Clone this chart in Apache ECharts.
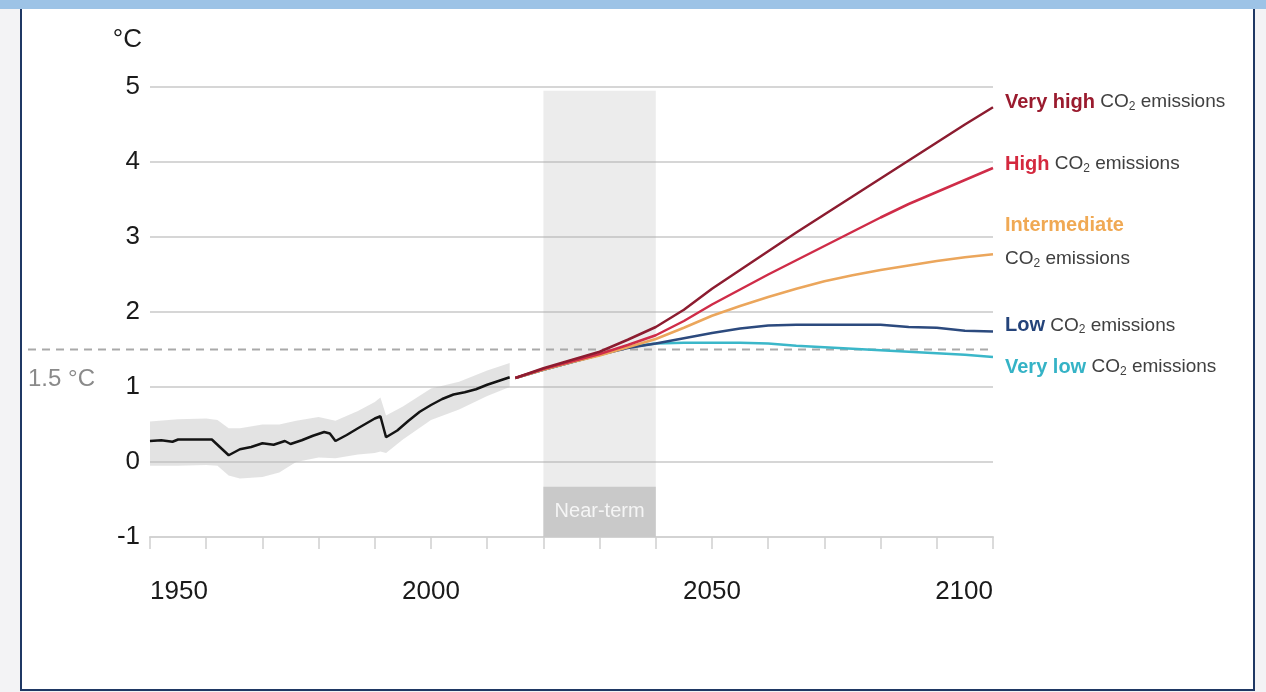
<!DOCTYPE html>
<html>
<head>
<meta charset="utf-8">
<script src="https://cdn.jsdelivr.net/npm/echarts@6/dist/echarts.min.js"></script>
<style>
  html, body { margin: 0; padding: 0; background: #f3f3f5; }
  #topband { position: absolute; left: 0; top: 0; width: 1266px; height: 9px; background: #9dc3e6; }
  #frame {
    position: absolute; left: 20px; top: 9px; width: 1231px; height: 680px;
    background: #fff; border: 2px solid #1f3864; border-top: none;
  }
  #chart { position: absolute; left: 0; top: 0; width: 1266px; height: 692px; }
</style>
</head>
<body>
<div id="topband"></div>
<div id="frame"></div>
<div id="chart"></div>
<script>
// observed warming, 1950-2014
var histYears = [1950, 1952, 1954, 1955, 1958, 1961, 1964, 1966, 1968, 1970, 1972, 1974, 1975, 1977,
  1979, 1981, 1982, 1983, 1985, 1987, 1990, 1991, 1992, 1994, 1996, 1998, 2000, 2002, 2004, 2006,
  2008, 2010, 2012, 2014]
var histTemp = [0.28, 0.29, 0.27, 0.30, 0.30, 0.30, 0.09, 0.17, 0.20, 0.25, 0.23, 0.28, 0.24, 0.29,
  0.35, 0.40, 0.38, 0.28, 0.36, 0.45, 0.58, 0.61, 0.33, 0.42, 0.55, 0.67, 0.76, 0.84, 0.90, 0.93,
  0.97, 1.03, 1.08, 1.13]

// uncertainty band around observations
var bandYears = [1950, 1955, 1960, 1962, 1964, 1966, 1970, 1973, 1976, 1980, 1983, 1987, 1990, 1991,
  1992, 1995, 2000, 2005, 2010, 2014]
var bandHigh = [0.54, 0.57, 0.58, 0.56, 0.45, 0.45, 0.50, 0.50, 0.55, 0.60, 0.55, 0.68, 0.80, 0.86,
  0.62, 0.74, 0.98, 1.07, 1.22, 1.32]
var bandLow = [-0.05, -0.05, -0.04, -0.05, -0.18, -0.22, -0.20, -0.14, 0.00, 0.06, 0.05, 0.10, 0.12, 0.14,
  0.12, 0.30, 0.56, 0.70, 0.88, 1.00]

// scenario projections
var projYears = [2015, 2020, 2025, 2030, 2035, 2040, 2045, 2050, 2055, 2060, 2065, 2070, 2075, 2080, 2085, 2090, 2095, 2100]
var veryHigh = [1.12, 1.25, 1.36, 1.47, 1.63, 1.80, 2.03, 2.31, 2.56, 2.81, 3.06, 3.30, 3.54, 3.78, 4.02, 4.26, 4.50, 4.73]
var high = [1.12, 1.24, 1.34, 1.44, 1.56, 1.69, 1.88, 2.10, 2.30, 2.50, 2.69, 2.88, 3.07, 3.26, 3.44, 3.60, 3.76, 3.92]
var intermediate = [1.12, 1.23, 1.33, 1.42, 1.53, 1.64, 1.79, 1.95, 2.08, 2.20, 2.31, 2.41, 2.49, 2.56, 2.62, 2.68, 2.73, 2.77]
var low = [1.12, 1.23, 1.33, 1.43, 1.52, 1.58, 1.65, 1.72, 1.78, 1.82, 1.83, 1.83, 1.83, 1.83, 1.80, 1.79, 1.75, 1.74]
var veryLow = [1.12, 1.23, 1.33, 1.43, 1.53, 1.58, 1.59, 1.59, 1.59, 1.58, 1.55, 1.53, 1.51, 1.49, 1.47, 1.45, 1.43, 1.40]

var xTickLabels = [1950, 2000, 2050, 2100]
var threshold = 1.5
var nearTerm = [2020, 2040]

var FONT = "'Liberation Sans', Arial, sans-serif"

function pairs(xs, ys) {
  return xs.map(function (x, i) { return [x, ys[i]] })
}

function richFor(color) {
  return {
    k: { color: color, fontWeight: 'bold', fontSize: 20, fontFamily: FONT },
    g: { color: '#404040', fontSize: 19, fontFamily: FONT },
    s: { color: '#404040', fontSize: 12, fontFamily: FONT, padding: [9, 0, 0, 0] }
  }
}

function scenario(name, ys, color, labelColor, keyword, offsetY, twoLines) {
  var sep = twoLines ? '\n' : ' '
  return {
    name: name,
    type: 'line',
    data: pairs(projYears, ys),
    symbol: 'none',
    lineStyle: { color: color, width: 2.5 },
    z: 4,
    endLabel: {
      show: true,
      distance: 12,
      offset: [0, offsetY],
      fontFamily: FONT,
      fontSize: 19,
      lineHeight: 33,
      formatter: '{k|' + keyword + '}' + sep + '{g|CO}{s|2}{g| emissions}',
      rich: richFor(labelColor)
    }
  }
}

// shaded range drawn as one polygon through the axis scales
function renderBand(params, api) {
  if (params.dataIndexInside !== 0) return
  var n = params.dataInsideLength
  var top = [], bottom = []
  for (var i = 0; i < n; i++) {
    var x = api.value(0, i)
    top.push(api.coord([x, api.value(2, i)]))
    bottom.unshift(api.coord([x, api.value(1, i)]))
  }
  return {
    type: 'polygon',
    shape: { points: top.concat(bottom) },
    style: { fill: 'rgba(185,185,185,0.4)' }
  }
}

var chart = echarts.init(document.getElementById('chart'))

chart.setOption({
  animation: false,
  grid: [
    { left: 150, right: 273, top: 87, bottom: 155, outerBoundsMode: 'none' },
    { left: 28, right: 273, top: 87, bottom: 155, outerBoundsMode: 'none' }
  ],
  xAxis: [{
    type: 'value',
    min: 1950,
    max: 2100,
    interval: 10,
    splitLine: { show: false },
    axisLine: { onZero: false, lineStyle: { color: '#d3d3d3', width: 2 } },
    axisTick: { length: 12, lineStyle: { color: '#cfcfcf', width: 1.5 } },
    axisLabel: {
      margin: 42,
      fontSize: 26,
      color: '#1a1a1a',
      fontFamily: FONT,
      alignMinLabel: 'left',
      alignMaxLabel: 'right',
      formatter: function (v) { return xTickLabels.indexOf(v) >= 0 ? String(v) : '' }
    }
  }, {
    gridIndex: 1, type: 'value', min: 0, max: 1, show: false
  }],
  yAxis: [{
    type: 'value',
    min: -1,
    max: 5,
    interval: 1,
    name: '°C',
    nameLocation: 'end',
    nameGap: 34,
    nameTextStyle: { fontSize: 26, color: '#1a1a1a', fontFamily: FONT, align: 'right', padding: [0, 8, 0, 0] },
    axisLine: { show: false },
    axisTick: { show: false },
    axisLabel: { fontSize: 26, color: '#1a1a1a', margin: 10, fontFamily: FONT },
    splitLine: { lineStyle: { color: '#d6d6d6', width: 2 } }
  }, {
    gridIndex: 1, type: 'value', min: -1, max: 5, show: false
  }],
  series: [
    {
      name: '1.5',
      type: 'line',
      xAxisIndex: 1,
      yAxisIndex: 1,
      data: [
        {
          value: [0, threshold],
          label: {
            show: true, position: 'bottom', align: 'left', distance: 18,
            formatter: '1.5 °C', color: '#8a8a8a', fontSize: 24, fontFamily: FONT
          }
        },
        [1, threshold]
      ],
      symbol: 'circle',
      symbolSize: 0.1,
      showSymbol: true,
      lineStyle: { color: '#a9a9a9', width: 2, type: [8, 6] },
      z: 1
    },
    {
      name: 'range',
      type: 'custom',
      renderItem: renderBand,
      data: bandYears.map(function (y, i) { return [y, bandLow[i], bandHigh[i]] }),
      encode: { x: 0, y: [1, 2] },
      z: 1,
      markArea: {
        silent: true,
        data: [
          [{ xAxis: nearTerm[0], yAxis: 4.95, itemStyle: { color: 'rgba(170,170,170,0.22)' } },
           { xAxis: nearTerm[1], yAxis: -1 }],
          [{
            name: 'Near-term', xAxis: nearTerm[0], yAxis: -0.33,
            itemStyle: { color: '#c9c9c9' },
            label: { show: true, position: 'inside', color: '#f5f5f5', fontSize: 20, fontFamily: FONT }
          }, { xAxis: nearTerm[1], yAxis: -1 }]
        ]
      }
    },
    {
      name: 'observed',
      type: 'line',
      data: pairs(histYears, histTemp),
      symbol: 'none',
      lineStyle: { color: '#141414', width: 2.5 },
      z: 4
    },
    scenario('Very low', veryLow, '#3bb7c9', '#35b3c6', 'Very low', 10, false),
    scenario('Low', low, '#2c4a7e', '#24437a', 'Low', -6, false),
    scenario('Intermediate', intermediate, '#eba65c', '#f0a954', 'Intermediate', -12, true),
    scenario('High', high, '#cf2c48', '#d4283e', 'High', -4, false),
    scenario('Very high', veryHigh, '#8c1c30', '#9a1b2e', 'Very high', -5, false)
  ]
})
</script>
</body>
</html>
